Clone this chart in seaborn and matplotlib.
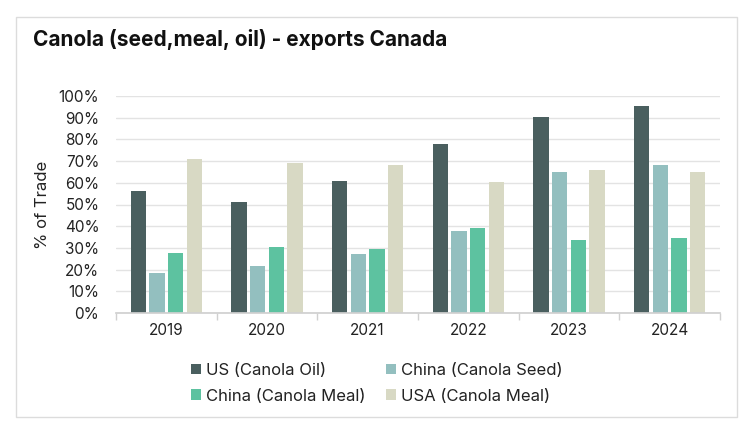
import numpy as np
import pandas as pd
import matplotlib
matplotlib.use('Agg')
import matplotlib.pyplot as plt
import seaborn as sns
from matplotlib.patches import Rectangle
from matplotlib.ticker import FixedLocator, PercentFormatter

# ========================
# DATA
# ========================
years = ['2019', '2020', '2021', '2022', '2023', '2024']
series = ['US (Canola Oil)', 'China (Canola Seed)', 'China (Canola Meal)', 'USA (Canola Meal)']
us_oil = [56, 51, 61, 78, 90.5, 95.5]
china_seed = [18.5, 21.5, 27, 38, 65, 68]
china_meal = [27.5, 30.5, 29.5, 39, 33.5, 34.5]
usa_meal = [71, 69, 68, 60.5, 66, 65]
colors = ['#4a5f5f', '#93bfbf', '#5dc2a0', '#d8d9c4']

df = pd.DataFrame({
    'Year': years * 4,
    'Series': [s for s in series for _ in years],
    'Value': us_oil + china_seed + china_meal + usa_meal,
})

sns.set_theme(style='white')
plt.rcParams['font.family'] = ['Inter', 'DejaVu Sans']

fig = plt.figure(figsize=(7.51, 4.36), dpi=100)
ax = fig.add_axes([116 / 751, 1 - 313 / 436, 604 / 751, 217 / 436])

sns.barplot(data=df, x='Year', y='Value', hue='Series', hue_order=series,
            palette=colors, width=0.74, gap=0.18, ax=ax, legend=True,
            saturation=1, edgecolor='none')

ax.set_ylim(0, 100)
ax.set_xlim(-0.5, len(years) - 0.5)
ax.yaxis.set_major_locator(FixedLocator(np.arange(0, 101, 10)))
ax.yaxis.set_major_formatter(PercentFormatter(decimals=0))
ax.grid(axis='y', color='#e3e3e3', lw=1)
ax.set_axisbelow(True)
for s in ['top', 'right', 'left']:
    ax.spines[s].set_visible(False)
ax.spines['bottom'].set_color('#d0d0d0')
ax.tick_params(axis='y', length=0, labelsize=11, colors='#222222', pad=12)
ax.tick_params(axis='x', length=0, labelsize=11, colors='#222222', pad=7)
ax.xaxis.set_minor_locator(FixedLocator(np.arange(-0.5, len(years), 1)))
ax.tick_params(axis='x', which='minor', length=5, color='#d0d0d0', bottom=True)
ax.set_xlabel('')
ax.set_ylabel('% of Trade', fontsize=12, color='#222222', labelpad=6)

# legend filled row by row like the original
handles, labels = ax.get_legend_handles_labels()
order = [0, 2, 1, 3]
ax.legend([handles[i] for i in order], [labels[i] for i in order], ncol=2,
          loc='upper center', bbox_to_anchor=(0.432, -0.16),
          frameon=False, fontsize=12, handlelength=0.6, handleheight=0.6,
          handletextpad=0.3, columnspacing=1.2, labelspacing=0.65,
          labelcolor='#222222')

# outer frame and title
fig.patches.append(Rectangle((16 / 751, 1 - 417 / 436), 721 / 751, 400 / 436,
                             transform=fig.transFigure, fill=False,
                             edgecolor='#dcdcdc', lw=1))
fig.text(33 / 751, 1 - 40 / 436, 'Canola (seed,meal, oil) - exports Canada',
         fontsize=15, fontweight='bold', va='center', ha='left', color='#111111')

fig.savefig('out.png', dpi=100)
